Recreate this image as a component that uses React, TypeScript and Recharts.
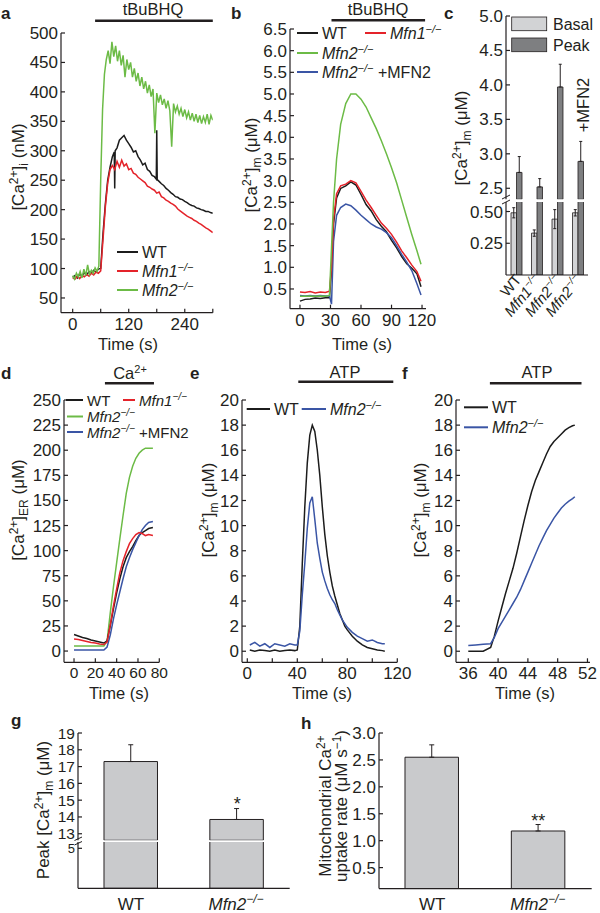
import React from "react";
import {
  LineChart,
  Line,
  BarChart,
  Bar,
  ErrorBar,
  XAxis,
  YAxis,
  ReferenceLine,
} from "recharts";

const FONT = '"Liberation Sans", Arial, Helvetica, sans-serif';
const INK = "#231f20";
const BLACK = "#1c1c1c";
const RED = "#e4232a";
const GREEN = "#6cbb46";
const BLUE = "#3a55a5";
const LIGHT = "#d2d3d5";
const DARK = "#7e7f81";
const BAR_G = "#c9cacc";

const range = (from: number, to: number, step: number) => {
  const out: number[] = [];
  for (let t = from; t <= to + 1e-9; t += step) out.push(t);
  return out;
};

// ---- a: cytosolic Ca2+ (nM)
const aTimesWT = [...range(0, 85, 5), 89, 90, 91, ...range(95, 175, 5), 179, 180, 181, ...range(185, 300, 5)];
const aWT = [
  85, 88, 84, 91, 87, 93, 89, 95, 92, 97, 94, 99, 100, 160, 210, 250, 272, 290,
  298, 236, 300,
  305, 318, 322, 326, 318, 312, 306, 298, 300, 290, 284, 276, 279, 268, 265, 258, 256,
  252, 335, 251,
  248, 244, 241, 236, 233, 229, 226, 222, 221, 218, 217, 214, 212, 209, 207, 206, 203, 202, 200, 199, 197, 197, 195, 194,
];
const aMfn1 = [
  84, 82, 87, 83, 88, 86, 90, 87, 92, 89, 94, 92, 96,
  150, 205, 245, 268, 275, 268, 282, 272, 284, 274, 278, 268,
  270, 262, 260, 255, 252, 249, 246, 240, 238, 235,
  233, 228, 230, 222, 220, 216, 214, 211, 209, 206,
  201, 198, 195, 192, 189, 187, 185, 182, 180, 177,
  175, 172, 169, 167, 164, 161,
];
const aMfn2 = [
  88, 82, 92, 86, 95, 84, 99, 88, 106, 90, 97, 92, 101, 95, 104,
  250, 370, 430, 455, 470, 448, 485, 460, 478, 452, 470, 445, 462, 425, 455, 438,
  450, 425, 440, 418, 432, 410, 425, 405, 418, 398, 412, 392, 405, 330, 398,
  382, 395, 378, 388, 372, 385, 368, 307, 380, 366, 376, 362, 372, 358, 370,
  356, 366, 352, 364, 350, 362, 348, 360, 346, 358, 348, 362, 345, 360, 352,
];

// ---- b: mitochondrial Ca2+ (uM)
const bTimes = [0, 5, 10, 15, 20, 25, 29, 31, 33, 36, 40, 45, 50, 55, 60, 65, 70, 75, 80, 85, 90, 95, 100, 105, 110, 115, 119];
const bWT = [0.22, 0.26, 0.27, 0.29, 0.28, 0.3, 0.3, 0.95, 2.0, 2.6, 2.82, 2.88, 2.97, 2.9, 2.68, 2.45, 2.3, 2.1, 1.95, 1.82, 1.62, 1.45, 1.25, 1.08, 0.98, 0.85, 0.55];
const bMfn1 = [0.43, 0.42, 0.44, 0.41, 0.43, 0.42, 0.45, 1.0, 2.1, 2.7, 2.88, 2.92, 3.0, 2.95, 2.75, 2.55, 2.38, 2.2, 2.02, 1.9, 1.76, 1.58, 1.38, 1.22, 1.05, 0.9, 0.68];
const bMfn2 = [0.33, 0.33, 0.34, 0.33, 0.34, 0.33, 0.35, 1.45, 2.5, 3.5, 4.3, 4.78, 5.0, 5.0, 4.88, 4.7, 4.45, 4.2, 3.92, 3.62, 3.3, 2.95, 2.55, 2.15, 1.75, 1.38, 1.07];
const bRescue = [0.35, 0.34, 0.35, 0.34, 0.35, 0.34, 0.34, 0.15, 1.6, 2.2, 2.38, 2.46, 2.42, 2.32, 2.2, 2.1, 2.0, 1.93, 1.88, 1.8, 1.68, 1.5, 1.3, 1.12, 0.92, 0.62, 0.36];

// ---- c: basal / peak bars
const cGenotypes = ["WT", "Mfn1−/−", "Mfn2−/−", "Mfn2−/−"];
const cBasal = [0.49, 0.33, 0.44, 0.49];
const cBasalErr = [0.04, 0.025, 0.075, 0.025];
const cPeak = [2.73, 2.52, 3.97, 2.89];
const cPeakErr = [0.23, 0.12, 0.33, 0.29];

// ---- d: ER Ca2+ (uM)
const dTimes = [0, 4, 8, 12, 16, 20, 24, 28, 31, 34, 37, 40, 43, 46, 49, 52, 55, 58, 61, 64, 67, 70, 74];
const dWT = [16.5, 15, 13.5, 12.5, 11, 10, 9, 8, 10, 25, 42, 58, 72, 84, 93, 99, 104, 110, 115, 118, 120, 122, 123];
const dMfn1 = [12, 11.5, 10.5, 9.5, 8.5, 8, 7, 6.5, 9, 26, 45, 62, 78, 90, 99, 107, 112, 116, 118, 117, 115, 116, 115];
const dMfn2 = [5, 5, 5, 5, 5, 5, 5, 5, 10, 38, 64, 88, 112, 135, 157, 173, 184, 192, 197, 200, 202, 202, 202];
const dRescue = [1, 1, 1, 1, 1, 1, 1, 1, 4, 16, 32, 46, 59, 72, 84, 93, 101, 108, 115, 121, 125, 128, 129];

// ---- e: ATP response
const eTimes = [2, 6, 10, 14, 18, 22, 26, 30, 34, 38, 40, 42, 44, 46, 48, 50, 52, 54, 56, 58, 60, 62, 64, 66, 68, 70, 72, 74, 76, 78, 80, 84, 88, 92, 96, 100, 104, 108, 110];
const eWT = [0.1, 0, 0.1, 0.05, 0, 0.1, 0, 0.05, 0.1, 0.05, 0.1, 2.0, 7, 11.5, 15, 17.2, 18, 17.5, 16, 14, 11.5, 9.3, 7.6, 6.3, 5.2, 4.4, 3.7, 3.0, 2.5, 2.0, 1.7, 1.2, 0.8, 0.5, 0.3, 0.2, 0.1, 0.05, 0];
const eMfn2 = [0.5, 0.7, 0.4, 0.6, 0.3, 0.6, 0.5, 0.4, 0.6, 0.5, 0.5, 1.6, 4.5, 7, 9.8, 11.8, 12.3, 10.5, 8.6, 7.4, 6.3, 5.6, 5.0, 4.5, 4.1, 3.8, 3.3, 2.9, 2.5, 2.2, 1.9, 1.5, 1.2, 1.0, 0.8, 0.9, 0.7, 0.6, 0.6];

// ---- f: rising phase
const fTimes = [36, 37, 38, 39, 39.5, 40, 40.5, 41, 41.5, 42, 42.5, 43, 43.5, 44, 44.5, 45, 45.5, 46, 46.5, 47, 47.5, 48, 48.5, 49, 49.5, 50, 50.3];
const fWT = [0, 0, 0, 0.3, 1.2, 2.4, 3.5, 4.6, 5.6, 6.6, 7.8, 9.1, 10.4, 11.6, 12.7, 13.6, 14.3, 15.0, 15.7, 16.3, 16.7, 17.0, 17.3, 17.6, 17.8, 17.95, 18];
const fMfn2 = [0.45, 0.5, 0.55, 0.6, 1.1, 1.8, 2.3, 2.8, 3.3, 3.8, 4.3, 4.9, 5.6, 6.3, 7.0, 7.7, 8.4, 9.0, 9.6, 10.1, 10.6, 11.0, 11.4, 11.7, 11.95, 12.15, 12.3];

// ---- g / h
const ghGenotypes = ["WT", "Mfn2−/−"];
const gPeak = [17.3, 13.85];
const gErr = [1.0, 0.65];
const hRate = [2.55, 1.18];
const hErr = [0.23, 0.12];

const every = (vals: number[], step: number) => vals.map((v, i) => ({ t: i * step, v }));
const paired = (times: number[], vals: number[]) => vals.map((v, i) => ({ t: times[i], v }));

const cData = cGenotypes.map((name, i) => ({
  name,
  basal: cBasal[i],
  basalErr: cBasalErr[i],
  peak: cPeak[i],
  peakErr: [0, cPeakErr[i]],
}));
const gData = ghGenotypes.map((name, i) => ({ name, v: gPeak[i], err: [0, gErr[i]] }));
const hData = ghGenotypes.map((name, i) => ({ name, v: hRate[i], err: [0, hErr[i]] }));

type Box = { x0: number; y0: number; x1: number; y1: number; yw?: number; pt?: number; pr?: number; xh?: number; pb?: number };
function frame({ x0, y0, x1, y1, yw = 46, pt = 22, pr = 14, xh = 26, pb = 0 }: Box) {
  return {
    style: { position: "absolute" as const, left: x0 - yw, top: y0 - pt },
    width: x1 - x0 + yw + pr,
    height: y1 - y0 + pt + xh + pb,
    margin: { top: pt, right: pr, left: 0, bottom: pb },
    yw,
    xh,
  };
}

const axisLine = { stroke: INK, strokeWidth: 1.2 };
const tickStyle = { fontSize: 17, fill: INK };
const xNum: any = {
  type: "number",
  dataKey: "t",
  allowDataOverflow: true,
  axisLine,
  tickLine: axisLine,
  tickSize: -4,
  tickMargin: 9,
  tick: tickStyle,
  interval: 0,
};
const yNum: any = {
  type: "number",
  allowDataOverflow: true,
  axisLine,
  tickLine: axisLine,
  tickSize: -4,
  tickMargin: 7,
  tick: tickStyle,
  interval: 0,
};
const lineProps: any = { dataKey: "v", dot: false, isAnimationActive: false, strokeWidth: 1.5, type: "linear" };

function Geno({ name, size = 16 }: { name: string; size?: number }) {
  const m = name.match(/^(.*?)(−\/−)(.*)$/);
  if (!m) return <>{name}</>;
  const lift = Math.round(size * 0.4);
  return (
    <>
      <tspan fontStyle="italic">{m[1]}</tspan>
      <tspan fontStyle="italic" fontSize={Math.round(size * 0.68)} dy={-lift}>
        {m[2]}
      </tspan>
      <tspan dy={lift}>{m[3] || "\u200a"}</tspan>
    </>
  );
}

function Ca({ pre = "", sub = "", unit }: { pre?: string; sub?: string; unit: string }) {
  return (
    <>
      {pre}[Ca<tspan fontSize={12} dy={-6}>2+</tspan>
      <tspan dy={6}>]</tspan>
      {sub ? (
        <>
          <tspan fontSize={12} dy={4}>{sub}</tspan>
          <tspan dy={-4}>{"\u00a0" + unit}</tspan>
        </>
      ) : (
        <tspan>{"\u00a0" + unit}</tspan>
      )}
    </>
  );
}

const CTick = (props: any) => {
  const { x, y, payload } = props;
  return (
    <text transform={`translate(${x + 6},${y + 5}) rotate(-50)`} textAnchor="end" fontSize={15} fill={INK}>
      <Geno name={payload.value} size={15} />
    </text>
  );
};
const GTick = (props: any) => {
  const { x, y, payload } = props;
  return (
    <text x={x} y={y + 21.5} textAnchor="middle" fontSize={17} fill={INK}>
      <Geno name={payload.value} size={17} />
    </text>
  );
};

const Legend = ({ x1, x2, y, color, children }: any) => (
  <g>
    <line x1={x1} x2={x2} y1={y} y2={y} stroke={color} strokeWidth={2} />
    <text x={x2 + 4} y={y + 5.5}>{children}</text>
  </g>
);

export default function App() {
  const fa = frame({ x0: 61, y0: 33, x1: 212.8, y1: 312.7 });
  const fb = frame({ x0: 290, y0: 29.3, x1: 426, y1: 309 });
  const fcU = frame({ x0: 506, y0: 15.7, x1: 588, y1: 199, xh: 0, pt: 12, pb: 2 });
  const fcL = frame({ x0: 506, y0: 202, x1: 588, y1: 275, xh: 55, pt: 6 });
  const fd = frame({ x0: 64, y0: 400, x1: 159.3, y1: 662.3 });
  const fe = frame({ x0: 241.7, y0: 400, x1: 397, y1: 662.3, pr: 20 });
  const ff = frame({ x0: 456, y0: 400, x1: 590, y1: 662.3, pr: 10 });
  const fgU = frame({ x0: 78.3, y0: 732.7, x1: 290, y1: 840, xh: 0, pt: 12, pb: 2 });
  const fgL = frame({ x0: 78.3, y0: 842, x1: 290, y1: 888.3, xh: 25, pt: 10 });
  const fh = frame({ x0: 379, y0: 732.7, x1: 591.7, y1: 888.3, xh: 25, pt: 12, pr: 6 });

  return (
    <div
      style={{
        position: "absolute",
        left: 0,
        top: 0,
        width: 600,
        height: 913,
        background: "#fff",
        fontFamily: FONT,
        overflow: "hidden",
      }}
    >
      {/* a */}
      <div style={fa.style}>
        <LineChart width={fa.width} height={fa.height} margin={fa.margin}>
          <XAxis {...xNum} height={fa.xh} domain={[-25, 300]} ticks={[0, 60, 120, 180, 240, 300]}
            tickFormatter={(v: number) => (v % 120 === 0 ? `${v}` : "")} />
          <YAxis {...yNum} width={fa.yw} domain={[25, 500]} ticks={[50, 100, 150, 200, 250, 300, 350, 400, 450, 500]} />
          <ReferenceLine segment={[{ x: 48, y: 521 }, { x: 300, y: 521 }]} stroke={INK} strokeWidth={2.5} ifOverflow="visible" />
          <Line {...lineProps} data={paired(aTimesWT, aWT)} stroke={BLACK} />
          <Line {...lineProps} data={every(aMfn1, 5)} stroke={RED} />
          <Line {...lineProps} data={every(aMfn2, 4)} stroke={GREEN} />
        </LineChart>
      </div>

      {/* b */}
      <div style={fb.style}>
        <LineChart width={fb.width} height={fb.height} margin={fb.margin}>
          <XAxis {...xNum} height={fb.xh} domain={[-9.8, 123.9]} ticks={[0, 30, 60, 90, 120]} />
          <YAxis {...yNum} width={fb.yw} domain={[0.045, 6.5]}
            ticks={[0.5, 1, 1.5, 2, 2.5, 3, 3.5, 4, 4.5, 5, 5.5, 6, 6.5]}
            tickFormatter={(v: number) => v.toFixed(1)} />
          <ReferenceLine segment={[{ x: 31, y: 6.7 }, { x: 123, y: 6.7 }]} stroke={INK} strokeWidth={2.5} ifOverflow="visible" />
          <Line {...lineProps} data={paired(bTimes, bWT)} stroke={BLACK} />
          <Line {...lineProps} data={paired(bTimes, bRescue)} stroke={BLUE} />
          <Line {...lineProps} data={paired(bTimes, bMfn1)} stroke={RED} />
          <Line {...lineProps} data={paired(bTimes, bMfn2)} stroke={GREEN} />
        </LineChart>
      </div>

      {/* c upper */}
      <div style={fcU.style}>
        <BarChart width={fcU.width} height={fcU.height} margin={fcU.margin} data={cData} barSize={5.5} barGap={0}>
          <XAxis dataKey="name" type="category" hide />
          <YAxis {...yNum} width={fcU.yw} domain={[2.34, 5.0]} ticks={[2.5, 3, 3.5, 4, 4.5, 5]}
            tickFormatter={(v: number) => v.toFixed(1)} />
          <Bar dataKey="basal" fill="none" stroke="none" isAnimationActive={false} />
          <Bar dataKey="peak" fill={DARK} stroke={INK} strokeWidth={0.8} isAnimationActive={false}>
            <ErrorBar dataKey="peakErr" width={1.5} stroke={INK} strokeWidth={1} direction="y" />
          </Bar>
        </BarChart>
      </div>
      {/* c lower */}
      <div style={fcL.style}>
        <BarChart width={fcL.width} height={fcL.height} margin={fcL.margin} data={cData} barSize={5.5} barGap={0}>
          <XAxis dataKey="name" type="category" height={fcL.xh} axisLine={axisLine} tickLine={false}
            tickSize={0} tickMargin={0} interval={0} tick={CTick} />
          <YAxis {...yNum} width={fcL.yw} domain={[0, 0.575]} ticks={[0.25, 0.5]}
            tickFormatter={(v: number) => v.toFixed(2)} />
          <Bar dataKey="basal" fill={LIGHT} stroke={INK} strokeWidth={0.8} isAnimationActive={false}>
            <ErrorBar dataKey="basalErr" width={1.5} stroke={INK} strokeWidth={1} direction="y" />
          </Bar>
          <Bar dataKey="peak" fill={DARK} stroke={INK} strokeWidth={0.8} isAnimationActive={false} />
        </BarChart>
      </div>

      {/* d */}
      <div style={fd.style}>
        <LineChart width={fd.width} height={fd.height} margin={fd.margin}>
          <XAxis {...xNum} height={fd.xh} domain={[-9.4, 80]} ticks={[0, 20, 40, 60, 80]}
            tick={{ fontSize: 15.5, fill: INK }} />
          <YAxis {...yNum} width={fd.yw} domain={[-11.2, 250]}
            ticks={[0, 25, 50, 75, 100, 125, 150, 175, 200, 225, 250]} />
          <ReferenceLine segment={[{ x: 29, y: 266.6 }, { x: 75, y: 266.6 }]} stroke={INK} strokeWidth={2.5} ifOverflow="visible" />
          <Line {...lineProps} data={paired(dTimes, dMfn2)} stroke={GREEN} />
          <Line {...lineProps} data={paired(dTimes, dWT)} stroke={BLACK} />
          <Line {...lineProps} data={paired(dTimes, dRescue)} stroke={BLUE} />
          <Line {...lineProps} data={paired(dTimes, dMfn1)} stroke={RED} />
        </LineChart>
      </div>

      {/* e */}
      <div style={fe.style}>
        <LineChart width={fe.width} height={fe.height} margin={fe.margin}>
          <XAxis {...xNum} height={fe.xh} domain={[-4.24, 120]} ticks={[0, 20, 40, 60, 80, 100, 120]}
            tickFormatter={(v: number) => (v % 40 === 0 ? `${v}` : "")} />
          <YAxis {...yNum} width={fe.yw} domain={[-0.88, 20]} ticks={[0, 2, 4, 6, 8, 10, 12, 14, 16, 18, 20]} />
          <ReferenceLine segment={[{ x: 40.8, y: 21.46 }, { x: 116.8, y: 21.46 }]} stroke={INK} strokeWidth={2.5} ifOverflow="visible" />
          <Line {...lineProps} data={paired(eTimes, eWT)} stroke={BLACK} />
          <Line {...lineProps} data={paired(eTimes, eMfn2)} stroke={BLUE} />
        </LineChart>
      </div>

      {/* f */}
      <div style={ff.style}>
        <LineChart width={ff.width} height={ff.height} margin={ff.margin}>
          <XAxis {...xNum} height={ff.xh} domain={[34.35, 52.34]} ticks={[36, 40, 44, 48, 52]} />
          <YAxis {...yNum} width={ff.yw} domain={[-0.88, 20]} ticks={[0, 2, 4, 6, 8, 10, 12, 14, 16, 18, 20]} />
          <ReferenceLine segment={[{ x: 38.9, y: 21.33 }, { x: 51.2, y: 21.33 }]} stroke={INK} strokeWidth={2.5} ifOverflow="visible" />
          <Line {...lineProps} data={paired(fTimes, fWT)} stroke={BLACK} />
          <Line {...lineProps} data={paired(fTimes, fMfn2)} stroke={BLUE} />
        </LineChart>
      </div>

      {/* g upper */}
      <div style={fgU.style}>
        <BarChart width={fgU.width} height={fgU.height} margin={fgU.margin} data={gData} barSize={53.5}>
          <XAxis dataKey="name" type="category" hide />
          <YAxis {...yNum} width={fgU.yw} domain={[12.61, 19]} ticks={[13, 14, 15, 16, 17, 18, 19]}
            tick={{ fontSize: 15.5, fill: INK }} />
          <Bar dataKey="v" fill={BAR_G} stroke={INK} strokeWidth={1} isAnimationActive={false}>
            <ErrorBar dataKey="err" width={2.5} stroke={INK} strokeWidth={1} direction="y" />
          </Bar>
        </BarChart>
      </div>
      {/* g lower */}
      <div style={fgL.style}>
        <BarChart width={fgL.width} height={fgL.height} margin={fgL.margin} data={gData} barSize={53.5}>
          <XAxis dataKey="name" type="category" height={fgL.xh} axisLine={axisLine} tickLine={false}
            tickSize={0} tickMargin={0} interval={0} tick={GTick} />
          <YAxis {...yNum} width={fgL.yw} domain={[0, 5.79]} ticks={[5]} tick={{ fontSize: 13, fill: INK }} />
          <Bar dataKey="v" fill={BAR_G} stroke={INK} strokeWidth={1} isAnimationActive={false} />
        </BarChart>
      </div>

      {/* h */}
      <div style={fh.style}>
        <BarChart width={fh.width} height={fh.height} margin={fh.margin} data={hData} barSize={53.5}>
          <XAxis dataKey="name" type="category" height={fh.xh} axisLine={axisLine} tickLine={false}
            tickSize={0} tickMargin={0} interval={0} tick={GTick} />
          <YAxis {...yNum} width={fh.yw} domain={[0.11, 3.0]} ticks={[0.5, 1, 1.5, 2, 2.5, 3]}
            tickFormatter={(v: number) => v.toFixed(1)} />
          <Bar dataKey="v" fill={BAR_G} stroke={INK} strokeWidth={1} isAnimationActive={false}>
            <ErrorBar dataKey="err" width={2.5} stroke={INK} strokeWidth={1} direction="y" />
          </Bar>
        </BarChart>
      </div>

      {/* annotations */}
      <svg width={600} height={913} style={{ position: "absolute", left: 0, top: 0, pointerEvents: "none" }}
        fontFamily={FONT} fill={INK}>
        <g fontSize={17} fontWeight="bold">
          <text x={1} y={18.5}>a</text>
          <text x={231} y={18.5}>b</text>
          <text x={444} y={18.5}>c</text>
          <text x={1} y={378.5}>d</text>
          <text x={190} y={378.5}>e</text>
          <text x={402} y={378.5}>f</text>
          <text x={11} y={726}>g</text>
          <text x={301} y={728.5}>h</text>
        </g>
        <g fontSize={16.5}>
          {/* treatments */}
          <text x={153} y={15} textAnchor="middle">tBuBHQ</text>
          <text x={378} y={15} textAnchor="middle">tBuBHQ</text>
          <text x={130} y={379} textAnchor="middle">
            Ca<tspan fontSize={11} dy={-6}>2+</tspan>
          </text>
          <text x={345} y={378} textAnchor="middle">ATP</text>
          <text x={537} y={378} textAnchor="middle">ATP</text>

          {/* axis titles */}
          <text transform="translate(24,167) rotate(-90)" textAnchor="middle" fontSize={17}><Ca sub="i" unit="(nM)" /></text>
          <text x={128} y={349.5} textAnchor="middle">Time (s)</text>
          <text transform="translate(257,165) rotate(-90)" textAnchor="middle" fontSize={17}><Ca sub="m" unit="(μM)" /></text>
          <text x={362} y={349.5} textAnchor="middle">Time (s)</text>
          <text transform="translate(467,138) rotate(-90)" textAnchor="middle" fontSize={17}><Ca sub="m" unit="(μM)" /></text>
          <text transform="translate(589,105) rotate(-90)" textAnchor="middle">+MFN2</text>
          <text transform="translate(24,510) rotate(-90)" textAnchor="middle" fontSize={17}><Ca sub="ER" unit="(μM)" /></text>
          <text x={119} y={699} textAnchor="middle">Time (s)</text>
          <text transform="translate(214,510) rotate(-90)" textAnchor="middle" fontSize={17}><Ca sub="m" unit="(μM)" /></text>
          <text x={322} y={699} textAnchor="middle">Time (s)</text>
          <text transform="translate(426,510) rotate(-90)" textAnchor="middle" fontSize={17}><Ca sub="m" unit="(μM)" /></text>
          <text x={525} y={699} textAnchor="middle">Time (s)</text>
          <text transform="translate(49,810) rotate(-90)" textAnchor="middle" fontSize={17}><Ca pre={"Peak\u00a0"} sub="m" unit="(μM)" /></text>
          <text transform="translate(331,806) rotate(-90)" textAnchor="middle" fontSize={17}>
            Mitochondrial Ca<tspan fontSize={12} dy={-6}>2+</tspan>
          </text>
          <text transform="translate(347,806) rotate(-90)" textAnchor="middle" fontSize={17}>
            uptake rate (μM s<tspan fontSize={12} dy={-6}>−1</tspan><tspan dy={6}>)</tspan>
          </text>
          <text x={237.3} y={810} textAnchor="middle" fontSize={18}>*</text>
          <text x={538.3} y={827} textAnchor="middle" fontSize={18}>**</text>
        </g>

        <g fontSize={16}>
          {/* legends */}
          <Legend x1={117} x2={138} y={252} color={BLACK}>WT</Legend>
          <Legend x1={117} x2={138} y={271} color={RED}><Geno name="Mfn1−/−" /></Legend>
          <Legend x1={117} x2={138} y={290} color={GREEN}><Geno name="Mfn2−/−" /></Legend>

          <Legend x1={297} x2={318} y={33} color={BLACK}>WT</Legend>
          <Legend x1={365} x2={386} y={33} color={RED}><Geno name="Mfn1−/−" /></Legend>
          <Legend x1={297} x2={318} y={53} color={GREEN}><Geno name="Mfn2−/−" /></Legend>
          <Legend x1={297} x2={318} y={72} color={BLUE}><Geno name={"Mfn2−/−\u00a0+MFN2"} /></Legend>

          <rect x={511.7} y={17} width={35} height={13.7} fill={LIGHT} stroke={INK} strokeWidth={0.8} />
          <rect x={511.7} y={38} width={35} height={13.7} fill={DARK} stroke={INK} strokeWidth={0.8} />
          <text x={553} y={30}>Basal</text>
          <text x={553} y={51}>Peak</text>
        </g>

        <g fontSize={15}>
          <Legend x1={66} x2={83} y={400} color={BLACK}>WT</Legend>
          <Legend x1={123} x2={135} y={400} color={RED}><Geno name="Mfn1−/−" size={15} /></Legend>
          <Legend x1={67} x2={83} y={416.5} color={GREEN}><Geno name="Mfn2−/−" size={15} /></Legend>
          <Legend x1={67} x2={83} y={432} color={BLUE}><Geno name={"Mfn2−/−\u00a0+MFN2"} size={15} /></Legend>
        </g>

        <g fontSize={16}>
          <Legend x1={246.7} x2={270} y={409} color={BLACK}>WT</Legend>
          <Legend x1={301.7} x2={326} y={409} color={BLUE}><Geno name="Mfn2−/−" /></Legend>

          <Legend x1={464} x2={488} y={407.3} color={BLACK}>WT</Legend>
          <Legend x1={464} x2={488} y={427.3} color={BLUE}><Geno name="Mfn2−/−" /></Legend>
        </g>

        {/* axis breaks */}
        <g stroke={INK} strokeWidth={1}>
          <line x1={502} y1={199} x2={510} y2={195} />
          <line x1={502} y1={204} x2={510} y2={200} />
          <line x1={74.5} y1={840.5} x2={82} y2={837} />
          <line x1={74.5} y1={845} x2={82} y2={841.5} />
        </g>
      </svg>
    </div>
  );
}
